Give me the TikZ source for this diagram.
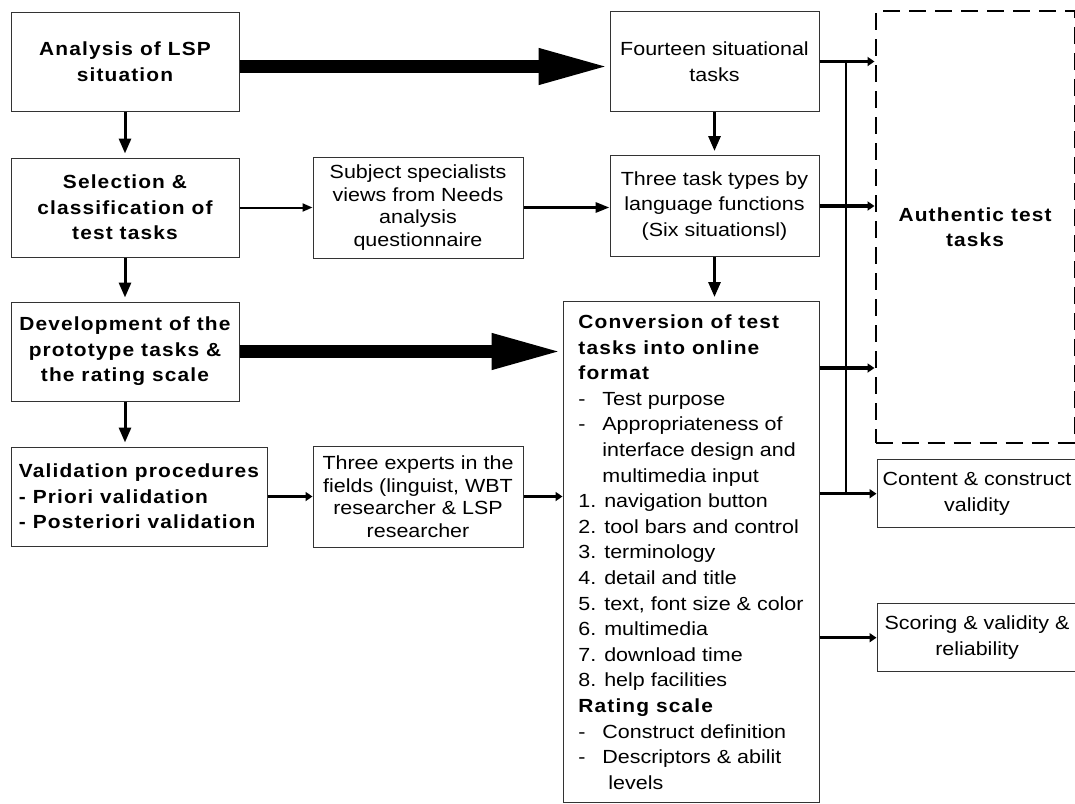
\documentclass[tikz,border=0pt]{standalone}
\usepackage{fontspec}
\setmainfont{Liberation Sans}[FakeStretch=1.13]
\newfontfamily\headfont{Liberation Sans}[FakeStretch=1.1,LetterSpace=6]
\usetikzlibrary{positioning,arrows.meta}

\begin{document}
\begin{tikzpicture}[x=1pt, y=-1pt,
    rect/.style={rectangle, draw=black!80, line width=1pt, inner sep=4pt, align=center,
        font=\fontsize{19pt}{25.6pt}\selectfont},
    bold/.style={font=\fontsize{19pt}{25.6pt}\selectfont\headfont\bfseries},
    tight/.style={font=\fontsize{19pt}{22.5pt}\selectfont},
    dashedbox/.style={draw=black, line width=2.2pt, dash pattern=on 17pt off 9pt},
    bigarrow/.style={line width=13pt, -{Triangle[length=71pt,width=33pt]}},
    downarrow/.style={line width=3pt, -{Triangle[length=15pt,width=12pt]}, shorten >=4pt},
    thinarrow/.style={line width=2pt, -{Triangle[length=10pt,width=8pt]}},
    midarrow/.style={line width=3pt, -{Triangle[length=14pt,width=10pt]}},
    sidearrow/.style={line width=3.5pt, -{Triangle[length=7pt,width=9pt]}}]
    \useasboundingbox (0,0) rectangle (1075,803);

    % Nodes
    \node[rect, bold, minimum width=228pt, minimum height=99pt] (analysis) at (125,61.5) {Analysis of LSP\\situation};
    \node[rect, bold, minimum width=228pt, minimum height=99pt] (selection) [below=46pt of analysis] {Selection \&\\classification of\\test tasks};
    \node[rect, bold, minimum width=228pt, minimum height=99pt] (development) [below=44pt of selection] {Development of the\\prototype tasks \&\\the rating scale};
    \node[rect, bold, align=left, minimum width=256pt, minimum height=99pt] (validation) [below right=45pt and 0pt of development.south west] {Validation procedures\\- Priori validation\\- Posteriori validation};

    \node[rect, tight, minimum width=210pt, minimum height=101pt] (subject) [right=73pt of selection] {Subject specialists\\views from Needs\\analysis\\questionnaire};
    \node[rect, tight, minimum width=210pt, minimum height=101pt] (experts) [right=45pt of validation] {Three experts in the\\fields (linguist, WBT\\researcher \& LSP\\researcher};

    \node[rect, minimum width=209pt, minimum height=100pt] (fourteen) [right=370pt of analysis] {Fourteen situational\\tasks};
    \node[rect, minimum width=209pt, minimum height=101pt] (tasktypes) [below=43pt of fourteen] {Three task types by\\language functions\\(Six situationsl)};
    \node[rect, align=left, inner xsep=15pt, minimum width=256pt, minimum height=501pt] (conversion) [below left=44pt and 0pt of tasktypes.south east] {%
        {\headfont\bfseries Conversion of test}\\
        {\headfont\bfseries tasks into online}\\
        {\headfont\bfseries format}\\
        \makebox[24pt][l]{-}Test purpose\\
        \makebox[24pt][l]{-}Appropriateness of\\
        \hspace*{24pt}interface design and\\
        \hspace*{24pt}multimedia input\\
        1. navigation button\\
        2. tool bars and control\\
        3. terminology\\
        4. detail and title\\
        5. text, font size \& color\\
        6. multimedia\\
        7. download time\\
        8. help facilities\\
        {\headfont\bfseries Rating scale}\\
        \makebox[24pt][l]{-}Construct definition\\
        \makebox[24pt][l]{-}Descriptors \& abilit\\
        \hspace*{30pt}levels};

    \node[rect, bold, dashedbox, minimum width=199pt, minimum height=432pt] (authentic) [below right=-1pt and 55pt of fourteen.north east] {Authentic test\\tasks};
    \node[rect, minimum width=200pt, minimum height=68pt] (content) [below right=15pt and 2pt of authentic.south west] {Content \& construct\\validity};
    \node[rect, minimum width=200pt, minimum height=68pt] (scoring) [below=75pt of content] {Scoring \& validity \&\\reliability};

    % Arrows
    \draw[bigarrow] ([yshift=-5pt]analysis.east) -- ([yshift=-5pt]fourteen.west);
    \draw[bigarrow] (development.east) -- (development.east -| conversion.west);

    \draw[downarrow] (analysis) -- (selection);
    \draw[downarrow] (selection) -- (development);
    \draw[downarrow] (development.south) -- (development.south |- validation.north);
    \draw[downarrow] (fourteen) -- (tasktypes);
    \draw[downarrow] (tasktypes.south) -- (tasktypes.south |- conversion.north);

    \draw[thinarrow] (selection) -- (subject);
    \draw[midarrow] (subject.east) -- (subject.east -| tasktypes.west);
    \draw[sidearrow] (validation) -- (experts);
    \draw[sidearrow] (experts.east) -- (experts.east -| conversion.west);

    \coordinate (convout) at ([yshift=-67pt]conversion.north east);
    \coordinate (bustop) at ([xshift=26pt]fourteen.east);
    \draw[line width=2pt] (bustop) -- (bustop |- content.west);
    \draw[sidearrow] (fourteen.east) -- (fourteen.east -| authentic.west);
    \draw[sidearrow] (tasktypes.east) -- (tasktypes.east -| authentic.west);
    \draw[sidearrow] (convout) -- (convout -| authentic.west);
    \draw[sidearrow] (conversion.east |- content.west) -- (content.west);
    \draw[sidearrow] (conversion.east |- scoring.west) -- (scoring.west);
\end{tikzpicture}
\end{document}
